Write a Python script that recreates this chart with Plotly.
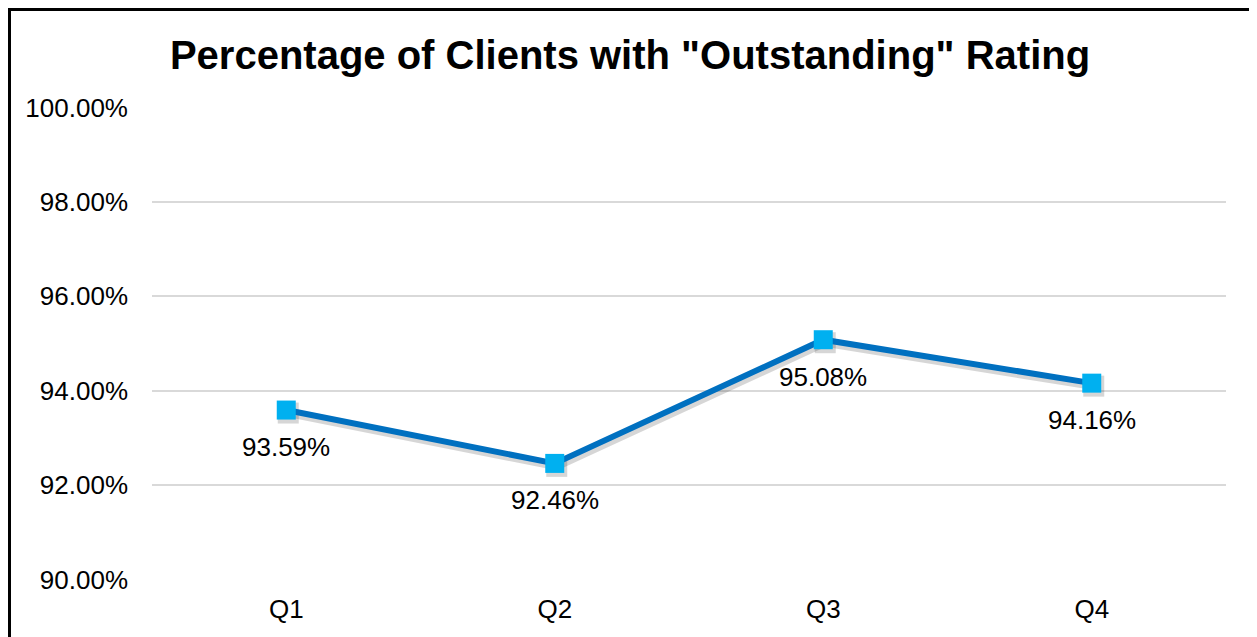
import plotly.graph_objects as go

quarters = ["Q1", "Q2", "Q3", "Q4"]
pct_outstanding = [93.59, 92.46, 95.08, 94.16]
label_text = ["93.59%", "92.46%", "95.08%", "94.16%"]
y_ticks = [90, 92, 94, 96, 98, 100]

# page body adds an 8px margin; size the figure so it fits the window
W, H = 1249, 629
ml, mr, mt, mb = 144, 31, 99, 57
pw, ph = W - ml - mr, H - mt - mb
y_lo, y_hi = 89.99, 100.01
px_per_y = ph / (y_hi - y_lo)
px_per_x = pw / 4.0
sdx, sdy = 2.0, 3.0  # shadow offset in pixels

fig = go.Figure()
# soft drop shadow on the base (hidden, shifted) axes -> drawn underneath
fig.add_trace(go.Scatter(
    x=quarters, y=pct_outstanding, xaxis="x", yaxis="y",
    mode="lines+markers",
    line=dict(color="rgba(0,0,0,0.16)", width=8),
    marker=dict(symbol="square", size=21, color="rgba(0,0,0,0.16)"),
    hoverinfo="skip", showlegend=False,
))
# main series on the overlay axes that carry ticks and grid
fig.add_trace(go.Scatter(
    x=quarters, y=pct_outstanding, xaxis="x2", yaxis="y2",
    mode="lines+markers",
    line=dict(color="#0070C0", width=6),
    marker=dict(symbol="square", size=19, color="#00B0F0"),
    cliponaxis=False, showlegend=False,
))

for q, v, t in zip(quarters, pct_outstanding, label_text):
    fig.add_annotation(x=q, y=v, xref="x2", yref="y2", text=t, showarrow=False, yshift=-37,
                       font=dict(family="Liberation Sans, Arial", size=26, color="#000000"))

# outer frame
fig.add_shape(type="rect", xref="paper", yref="paper",
              x0=(1.5 - ml) / pw, x1=(1246.5 - ml) / pw,
              y0=(H - mb - 700) / ph, y1=(H - mb - 1.5) / ph,
              line=dict(color="#000000", width=3), layer="above")

fig.update_layout(
    width=W, height=H,
    margin=dict(l=ml, r=mr, t=mt, b=mb),
    paper_bgcolor="white", plot_bgcolor="white",
    font=dict(family="Liberation Sans, Arial", color="#000000"),
    title=dict(text='<b>Percentage of Clients with "Outstanding" Rating</b>',
               x=622 / W, xanchor="center", xref="container", y=1 - 47 / H, yanchor="middle",
               font=dict(size=40, color="#000000")),
    xaxis=dict(type="category", range=[-0.5 - sdx / px_per_x, 3.5 - sdx / px_per_x],
               showgrid=False, zeroline=False, showline=False, ticks="",
               showticklabels=False),
    yaxis=dict(range=[y_lo + sdy / px_per_y, y_hi + sdy / px_per_y],
               showgrid=False, zeroline=False, showline=False, ticks="",
               showticklabels=False),
    xaxis2=dict(type="category", overlaying="x", side="bottom", range=[-0.5, 3.5],
                showgrid=False, zeroline=False, showline=False, ticks="",
                tickfont=dict(size=26), ticklabelstandoff=11),
    yaxis2=dict(overlaying="y", side="left", range=[y_lo, y_hi], tickvals=y_ticks,
                ticktext=[f"{v:.2f}%" for v in y_ticks],
                showgrid=True, gridcolor="#D9D9D9", gridwidth=2, zeroline=False,
                showline=False, ticks="", tickfont=dict(size=26), ticklabelstandoff=23),
)

fig.write_html("out.html")
